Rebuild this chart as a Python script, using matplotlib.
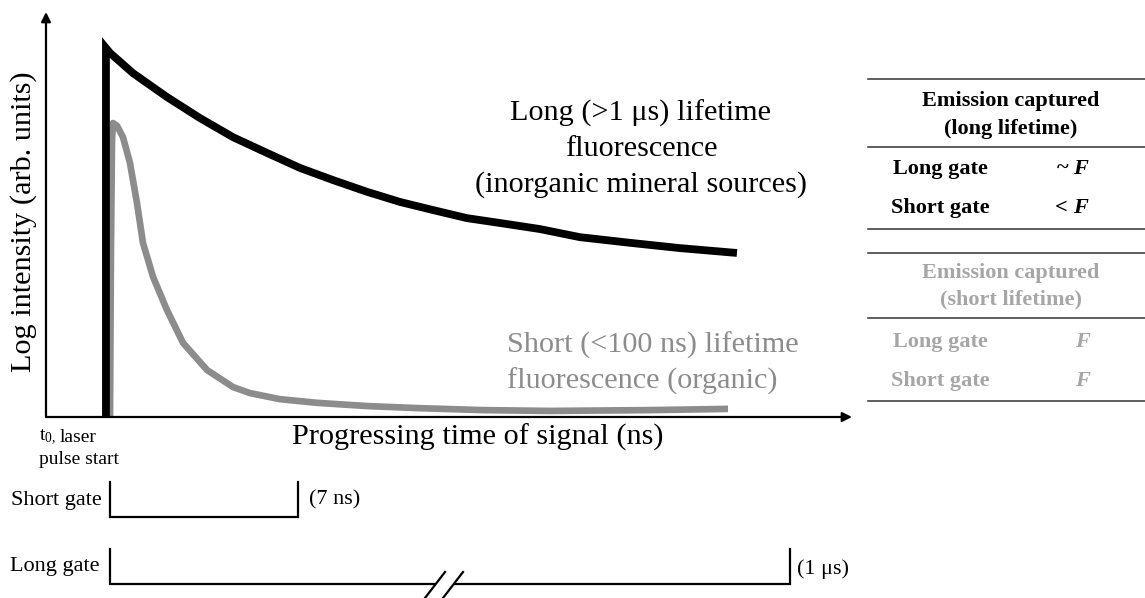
import matplotlib
matplotlib.use("Agg")
import matplotlib.pyplot as plt

plt.rcParams['font.family'] = ['Liberation Serif', 'DejaVu Serif']
plt.rcParams['mathtext.fontset'] = 'custom'
plt.rcParams['mathtext.rm'] = 'Liberation Serif'
plt.rcParams['mathtext.it'] = 'Liberation Serif:italic'

# ---- data (arbitrary units: time 0-100, log intensity 0-100) ----
long_time = [7.44, 7.44, 7.94, 10.79, 15.01, 19.11, 23.20, 27.42, 31.51, 35.61, 39.83,
             43.92, 48.01, 52.23, 56.33, 61.3, 66.25, 72.5, 78.66, 85.73]
long_intensity = [0.0, 91.1, 89.9, 84.9, 79.0, 73.8, 69.1, 65.2, 61.5, 58.5, 55.6,
                  53.1, 51.1, 49.1, 47.9, 46.4, 44.4, 43.0, 41.7, 40.5]

short_time = [7.94, 8.06, 8.19, 8.31, 8.81, 9.55, 10.42, 11.29, 12.03, 13.28, 15.01,
              17.00, 19.98, 23.20, 25.31, 29.03, 33.62, 39.83, 46.03, 54.22, 62.53, 74.94, 84.62]
short_intensity = [0.0, 41.2, 68.4, 72.6, 71.9, 69.1, 62.7, 52.8, 43.0, 34.6, 26.4,
                   18.3, 11.6, 7.4, 5.9, 4.4, 3.5, 2.7, 2.2, 1.7, 1.5, 1.7, 2.0]

x_label = "Progressing time of signal (ns)"
y_label = "Log intensity (arb. units)"
long_label = ["Long (>1 μs) lifetime", "fluorescence", "(inorganic mineral sources)"]
short_label = ["Short (<100 ns) lifetime", "fluorescence (organic)"]
gate_names = ["Short gate", "Long gate"]
gate_durations = ["(7 ns)", "(1 μs)"]
table_headers = [["Emission captured", "(long lifetime)"], ["Emission captured", "(short lifetime)"]]
table_rows = ["Long gate", "Short gate"]
table_values = [["~", "<"], ["", ""]]

W, H = 1145, 598
fig = plt.figure(figsize=(W / 100, H / 100), dpi=100)

# overlay in pixel coordinates
ov = fig.add_axes([0, 0, 1, 1])
ov.set_xlim(0, W)
ov.set_ylim(H, 0)
ov.axis('off')

# main plotting axes
x0, x1, yb, yt = 46, 852, 417, 12
ax = fig.add_axes([x0 / W, (H - yb) / H, (x1 - x0) / W, (yb - yt) / H])
ax.set_xlim(0, 100)
ax.set_ylim(0, 100)
ax.patch.set_alpha(0)
for s in ax.spines.values():
    s.set_visible(False)
ax.set_xticks([])
ax.set_yticks([])

# axis arrows
ax.annotate("", xy=(0, 1.0), xytext=(0, 0), xycoords='axes fraction',
            arrowprops=dict(arrowstyle='-|>', lw=1.6, color='black', mutation_scale=14, shrinkA=0, shrinkB=0))
ax.annotate("", xy=(1.0, 0), xytext=(0, 0), xycoords='axes fraction',
            arrowprops=dict(arrowstyle='-|>', lw=1.6, color='black', mutation_scale=14, shrinkA=0, shrinkB=0))

ax.plot(short_time, short_intensity, color='#8c8c8c', lw=4.8, solid_capstyle='butt',
        solid_joinstyle='round', zorder=2)
ax.plot(long_time, long_intensity, color='black', lw=5.6, solid_capstyle='butt',
        solid_joinstyle='miter', zorder=3)

fs = 21.8
ax.set_xlabel(x_label, fontsize=fs, va='center')
ax.xaxis.set_label_coords((478 - x0) / (x1 - x0), (yb - 437) / (yb - yt))
ax.set_ylabel(y_label, fontsize=fs, va='center')
ax.yaxis.set_label_coords((24 - x0) / (x1 - x0), (yb - 222) / (yb - yt))

# curve labels (pixel coords)
for i, t in enumerate(long_label):
    ov.text(641, 113 + 36 * i, t, fontsize=fs, ha='center', va='center', color='black')
for i, t in enumerate(short_label):
    ov.text(507, 345 + 36 * i, t, fontsize=fs, ha='left', va='center', color='#8c8c8c')

# t0 label
ov.text(39, 437, r"t$_\mathrm{0,}$", fontsize=14, ha='left', va='center')
ov.text(60, 437, "laser", fontsize=14, ha='left', va='center')
ov.text(79, 460, "pulse start", fontsize=14, ha='center', va='center')

# gates
glw = 1.6
gfs = 16
ov.plot([110, 110, 298, 298], [482, 517, 517, 482], color='black', lw=glw, solid_joinstyle='miter')
ov.text(102, 500, gate_names[0], fontsize=gfs, ha='right', va='center')
ov.text(309, 500, gate_durations[0], fontsize=gfs, ha='left', va='center')
ov.plot([110, 110, 434], [549, 584, 584], color='black', lw=glw, solid_joinstyle='miter')
ov.plot([455, 790, 790], [584, 584, 549], color='black', lw=glw, solid_joinstyle='miter')
ov.plot([425, 445], [598, 572], color='black', lw=glw)
ov.plot([443, 463], [598, 572], color='black', lw=glw)
ov.text(100, 567, gate_names[1], fontsize=gfs, ha='right', va='center')
ov.text(797, 569, gate_durations[1], fontsize=gfs, ha='left', va='center')

# table
tl = dict(color='#333333', lw=1.1)
for y in [79, 147, 229, 253, 318, 401]:
    ov.plot([868, 1145], [y, y], **tl)

tfs = 16
cols = ['black', '#a6a6a6']
hdr_y = [(101, 129), (273, 299)]
row_y = [(169, 208), (342, 381)]
for k in range(2):
    c = cols[k]
    ov.text(1011, hdr_y[k][0], table_headers[k][0], fontsize=tfs, fontweight='bold', ha='center', va='center', color=c)
    ov.text(1011, hdr_y[k][1], table_headers[k][1], fontsize=tfs, fontweight='bold', ha='center', va='center', color=c)
    for j, name in enumerate(table_rows):
        y = row_y[k][j]
        ov.text(940, y, name, fontsize=tfs, fontweight='bold', ha='center', va='center', color=c)
        fx = 1088 if k == 0 else 1090
        ov.text(fx, y, "F", fontsize=tfs, fontweight='bold', style='italic', ha='right', va='center', color=c)
        if table_values[k][j]:
            ov.text(1068, y, table_values[k][j], fontsize=tfs, fontweight='bold', ha='right', va='center', color=c)

fig.savefig("out.png", dpi=100)
